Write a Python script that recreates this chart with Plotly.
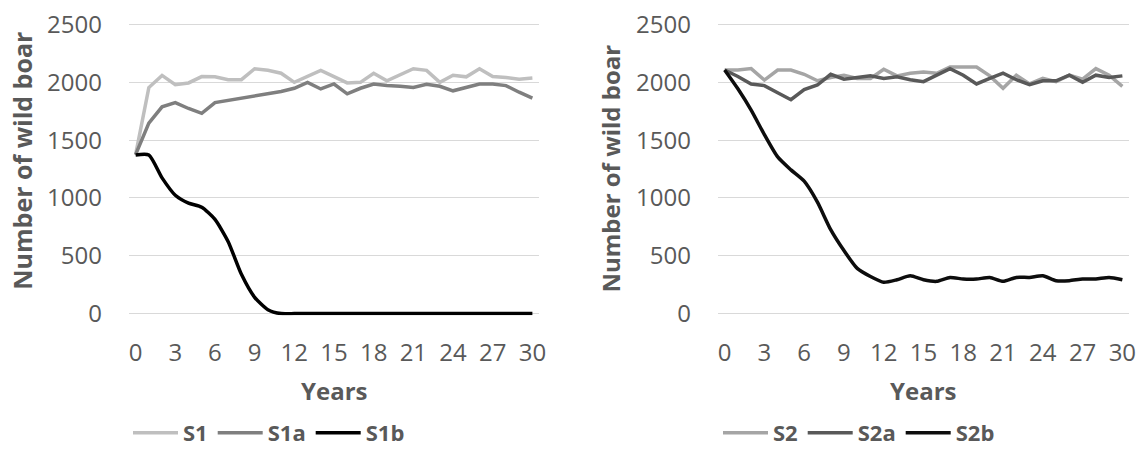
import plotly.graph_objects as go

years = list(range(31))
xtick_vals = list(range(0, 31, 3))
ytick_vals = [0, 500, 1000, 1500, 2000, 2500]

s1 = [1375, 1955, 2060, 1980, 1995, 2050, 2048, 2023, 2023, 2118, 2104, 2079, 2000, 2056, 2104, 2050,
      1995, 2000, 2079, 2014, 2062, 2118, 2104, 2000, 2062, 2048, 2118, 2050, 2042, 2028, 2037]
s1a = [1375, 1647, 1788, 1825, 1774, 1732, 1825, 1845, 1864, 1887, 1901, 1921, 1949, 2000, 1943, 1986,
       1901, 1949, 1986, 1972, 1966, 1955, 1983, 1966, 1927, 1958, 1986, 1986, 1972, 1915, 1864]
s1b = [1372, 1372, 1174, 1024, 956, 920, 815, 622, 340, 141, 34, 0, 0, 0, 0, 0,
       0, 0, 0, 0, 0, 0, 0, 0, 0, 0, 0, 0, 0, 0, 0]

s2 = [2107, 2107, 2119, 2020, 2107, 2107, 2070, 2014, 2042, 2062, 2034, 2034, 2113, 2056, 2079, 2090,
      2079, 2133, 2133, 2133, 2056, 1949, 2062, 1986, 2034, 2006, 2062, 2028, 2119, 2062, 1966]
s2a = [2107, 2051, 1986, 1972, 1910, 1850, 1938, 1977, 2070, 2028, 2042, 2056, 2034, 2048, 2023, 2006,
       2062, 2119, 2062, 1986, 2034, 2079, 2023, 1980, 2014, 2014, 2062, 2000, 2062, 2042, 2056]
s2b = [2107, 1944, 1760, 1548, 1355, 1243, 1145, 964, 726, 545, 391, 321, 271, 293, 327, 293,
       279, 313, 299, 299, 313, 279, 313, 313, 327, 285, 285, 299, 299, 313, 293]

TXT = "#595959"
GRID = "#d9d9d9"
FONT = "Open Sans"

fig = go.Figure()

left = [("S1", s1, "#bfbfbf", "linear"), ("S1a", s1a, "#7f7f7f", "linear"), ("S1b", s1b, "#000000", "spline")]
right = [("S2", s2, "#a5a5a5", "linear"), ("S2a", s2a, "#595959", "linear"), ("S2b", s2b, "#0d0d0d", "spline")]

for name, vals, col, shape in left:
    fig.add_trace(go.Scatter(x=years, y=vals, name=name, mode="lines",
                             line=dict(color=col, width=3.5, shape=shape, smoothing=0.6),
                             xaxis="x", yaxis="y", legend="legend", cliponaxis=False))
for name, vals, col, shape in right:
    fig.add_trace(go.Scatter(x=years, y=vals, name=name, mode="lines",
                             line=dict(color=col, width=3.5, shape=shape, smoothing=0.6),
                             xaxis="x2", yaxis="y2", legend="legend2", cliponaxis=False))

W, H = 1140, 454
def px(x):
    return x / W
def py(y):
    return (H - y) / H

xcommon = dict(range=[-0.5, 30.5], tickvals=xtick_vals, showgrid=False, zeroline=False,
               showline=False, ticks="", tickfont=dict(family=FONT, size=24, color=TXT),
               ticklabelstandoff=21, fixedrange=True, automargin=False)
ycommon = dict(range=[-14, 2514], tickvals=ytick_vals, showgrid=True, gridcolor=GRID, gridwidth=1.3,
               zeroline=False, showline=False, ticks="",
               tickfont=dict(family=FONT, size=24, color=TXT), ticklabelstandoff=26,
               fixedrange=True, automargin=False)

legfont = dict(family=FONT, size=22, color=TXT, weight="bold")

fig.update_layout(
    autosize=True,
    margin=dict(l=0, r=0, t=0, b=0, pad=0),
    paper_bgcolor="white", plot_bgcolor="white",
    xaxis=dict(domain=[px(129), px(539)], anchor="y", **xcommon),
    yaxis=dict(domain=[py(321.6), py(23.4)], anchor="x", **ycommon),
    xaxis2=dict(domain=[px(718), px(1129)], anchor="y2", **xcommon),
    yaxis2=dict(domain=[py(321.6), py(23.4)], anchor="x2", **ycommon),
    legend=dict(orientation="h", x=px(128), y=py(442), xanchor="left", yanchor="middle",
                font=legfont, bgcolor="rgba(0,0,0,0)", itemwidth=45, tracegroupgap=0),
    legend2=dict(orientation="h", x=px(718), y=py(442), xanchor="left", yanchor="middle",
                 font=legfont, bgcolor="rgba(0,0,0,0)", itemwidth=45, tracegroupgap=0),
    showlegend=True,
    annotations=[
        dict(text="<b>Years</b>", x=px(334), y=py(398), xref="paper", yref="paper",
             showarrow=False, xanchor="center", yanchor="middle",
             font=dict(family=FONT, size=24, color=TXT)),
        dict(text="<b>Years</b>", x=px(923), y=py(398), xref="paper", yref="paper",
             showarrow=False, xanchor="center", yanchor="middle",
             font=dict(family=FONT, size=24, color=TXT)),
        dict(text="<b>Number of wild boar</b>", x=px(22), y=py(164), xref="paper", yref="paper",
             showarrow=False, xanchor="center", yanchor="middle", textangle=-90,
             font=dict(family=FONT, size=25, color=TXT)),
        dict(text="<b>Number of wild boar</b>", x=px(611), y=py(172), xref="paper", yref="paper",
             showarrow=False, xanchor="center", yanchor="middle", textangle=-90,
             font=dict(family=FONT, size=24, color=TXT)),
    ],
)

post = (
    "var s=document.createElement('style');"
    "s.textContent='html,body{margin:0;padding:0;overflow:hidden;}';"
    "document.head.appendChild(s);"
)
fig.write_html("out.html", config={"displayModeBar": False, "responsive": True},
               default_width="100vw", default_height="100vh", post_script=post)
